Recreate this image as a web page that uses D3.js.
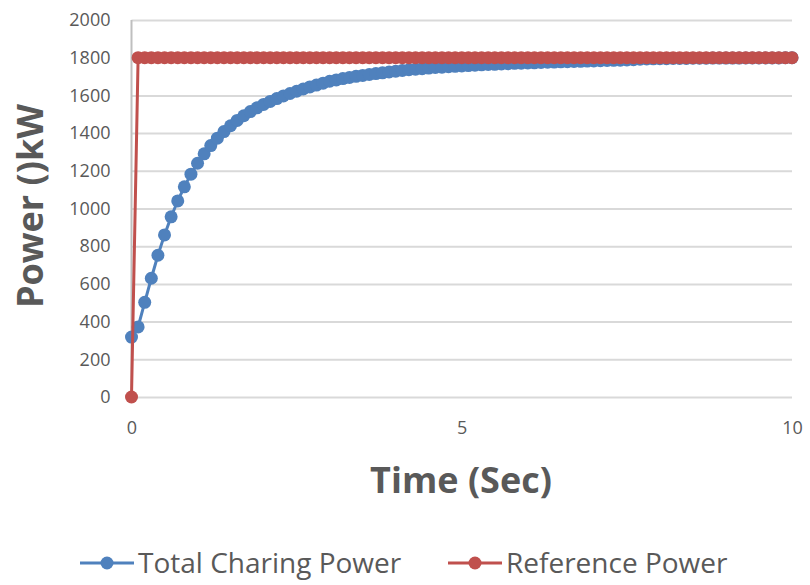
<!DOCTYPE html>
<html>
<head>
<meta charset="utf-8">
<script src="https://cdn.jsdelivr.net/npm/d3@7"></script>
<style>
  html, body { margin: 0; padding: 0; background: #ffffff; }
  svg { display: block; }
</style>
</head>
<body>
<svg id="chart" width="810" height="585"></svg>
<script>
// ---- Data ----
const timeSec = [
  0, 0.1, 0.2, 0.3, 0.4, 0.5, 0.6, 0.7, 0.8, 0.9,
  1, 1.1, 1.2, 1.3, 1.4, 1.5, 1.6, 1.7, 1.8, 1.9,
  2, 2.1, 2.2, 2.3, 2.4, 2.5, 2.6, 2.7, 2.8, 2.9,
  3, 3.1, 3.2, 3.3, 3.4, 3.5, 3.6, 3.7, 3.8, 3.9,
  4, 4.1, 4.2, 4.3, 4.4, 4.5, 4.6, 4.7, 4.8, 4.9,
  5, 5.1, 5.2, 5.3, 5.4, 5.5, 5.6, 5.7, 5.8, 5.9,
  6, 6.1, 6.2, 6.3, 6.4, 6.5, 6.6, 6.7, 6.8, 6.9,
  7, 7.1, 7.2, 7.3, 7.4, 7.5, 7.6, 7.7, 7.8, 7.9,
  8, 8.1, 8.2, 8.3, 8.4, 8.5, 8.6, 8.7, 8.8, 8.9,
  9, 9.1, 9.2, 9.3, 9.4, 9.5, 9.6, 9.7, 9.8, 9.9,
  10
];
const totalChargingPower = [
  318, 372, 502, 630, 752, 860, 956, 1040, 1115, 1182,
  1240, 1290, 1334, 1373, 1408, 1439, 1467, 1492, 1514, 1534,
  1552, 1568, 1583, 1597, 1610, 1622, 1634, 1645, 1655, 1665,
  1675, 1682, 1689, 1695, 1701, 1706, 1711, 1716, 1720, 1724,
  1728, 1732, 1736, 1739, 1742, 1745, 1748, 1750, 1752, 1754,
  1756, 1758, 1760, 1762, 1764, 1765, 1767, 1768, 1770, 1771,
  1772, 1773, 1775, 1776, 1777, 1778, 1779, 1780, 1781, 1782,
  1783, 1784, 1785, 1786, 1787, 1788, 1789, 1792, 1793, 1794,
  1795, 1795, 1796, 1796, 1796, 1797, 1797, 1797, 1798, 1798,
  1798, 1798, 1798, 1799, 1799, 1799, 1799, 1799, 1799, 1800,
  1800
];
const referencePower = [
  0, 1800, 1800, 1800, 1800, 1800, 1800, 1800, 1800, 1800,
  1800, 1800, 1800, 1800, 1800, 1800, 1800, 1800, 1800, 1800,
  1800, 1800, 1800, 1800, 1800, 1800, 1800, 1800, 1800, 1800,
  1800, 1800, 1800, 1800, 1800, 1800, 1800, 1800, 1800, 1800,
  1800, 1800, 1800, 1800, 1800, 1800, 1800, 1800, 1800, 1800,
  1800, 1800, 1800, 1800, 1800, 1800, 1800, 1800, 1800, 1800,
  1800, 1800, 1800, 1800, 1800, 1800, 1800, 1800, 1800, 1800,
  1800, 1800, 1800, 1800, 1800, 1800, 1800, 1800, 1800, 1800,
  1800, 1800, 1800, 1800, 1800, 1800, 1800, 1800, 1800, 1800,
  1800, 1800, 1800, 1800, 1800, 1800, 1800, 1800, 1800, 1800,
  1800
];
const yTickValues = [0, 200, 400, 600, 800, 1000, 1200, 1400, 1600, 1800, 2000];
const xTickValues = [0, 5, 10];
const seriesNames = ["Total Charing Power", "Reference Power"];
const xTitle = "Time (Sec)";
const yTitle = "Power ()kW";

// ---- Layout ----
const svg = d3.select("#chart");
const plot = { left: 131.5, right: 792, top: 20, bottom: 397 };
const x = d3.scaleLinear().domain([0, 10]).range([plot.left, plot.right]);
const y = d3.scaleLinear().domain([0, 2000]).range([plot.bottom, plot.top]);

const textColor = "#595959";
const fontFamily = "'Open Sans', 'Noto Sans', sans-serif";
const blue = "#4F81BD";
const red = "#C0504D";
const markerR = 6.5;

// Gridlines (y axis)
const yAxis = d3.axisLeft(y).tickValues(yTickValues).tickSize(-(plot.right - plot.left)).tickPadding(21).tickFormat(d3.format("d"));
const gy = svg.append("g").attr("transform", `translate(${plot.left},0)`).call(yAxis);
gy.select(".domain").remove();
gy.selectAll(".tick line").attr("stroke", "#d9d9d9").attr("stroke-width", 2);
gy.selectAll(".tick text").attr("fill", textColor).attr("font-family", fontFamily).attr("font-size", 18);

// Vertical axis line at x=0
svg.append("line")
  .attr("x1", x(0)).attr("x2", x(0))
  .attr("y1", y(2000)).attr("y2", y(0))
  .attr("stroke", "#bfbfbf").attr("stroke-width", 2);

// X axis labels
const xAxis = d3.axisBottom(x).tickValues(xTickValues).tickSize(0).tickPadding(24).tickFormat(d3.format("d"));
const gx = svg.append("g").attr("transform", `translate(0,${plot.bottom})`).call(xAxis);
gx.select(".domain").remove();
gx.selectAll(".tick text").attr("fill", textColor).attr("font-family", fontFamily).attr("font-size", 18);

// Axis titles
svg.append("text")
  .attr("x", 461).attr("y", 493)
  .attr("text-anchor", "middle")
  .attr("fill", textColor).attr("font-family", fontFamily)
  .attr("font-weight", "bold").attr("font-size", 36)
  .text(xTitle);
svg.append("text")
  .attr("transform", "translate(43,206) rotate(-90)")
  .attr("text-anchor", "middle")
  .attr("fill", textColor).attr("font-family", fontFamily)
  .attr("font-weight", "bold").attr("font-size", 36)
  .text(yTitle);

// Series
const series = [
  { name: seriesNames[0], values: totalChargingPower, color: blue },
  { name: seriesNames[1], values: referencePower, color: red }
];
const line = d3.line().x((d, i) => x(timeSec[i])).y(d => y(d));

series.forEach(s => {
  const g = svg.append("g");
  g.append("path")
    .datum(s.values)
    .attr("fill", "none")
    .attr("stroke", s.color)
    .attr("stroke-width", 3)
    .attr("stroke-linejoin", "round")
    .attr("d", line);
  g.selectAll("circle")
    .data(s.values)
    .join("circle")
    .attr("cx", (d, i) => x(timeSec[i]))
    .attr("cy", d => y(d))
    .attr("r", markerR)
    .attr("fill", s.color);
});

// Legend
const legendY = 563;
const legendItems = [
  { name: seriesNames[0], color: blue, x0: 80 },
  { name: seriesNames[1], color: red, x0: 448 }
];
legendItems.forEach(it => {
  const g = svg.append("g");
  g.append("line")
    .attr("x1", it.x0).attr("x2", it.x0 + 54)
    .attr("y1", legendY).attr("y2", legendY)
    .attr("stroke", it.color).attr("stroke-width", 3);
  g.append("circle")
    .attr("cx", it.x0 + 27).attr("cy", legendY).attr("r", markerR)
    .attr("fill", it.color);
  g.append("text")
    .attr("x", it.x0 + 58).attr("y", legendY)
    .attr("dy", "0.35em")
    .attr("fill", textColor).attr("font-family", fontFamily)
    .attr("font-size", 28)
    .text(it.name);
});
</script>
</body>
</html>
